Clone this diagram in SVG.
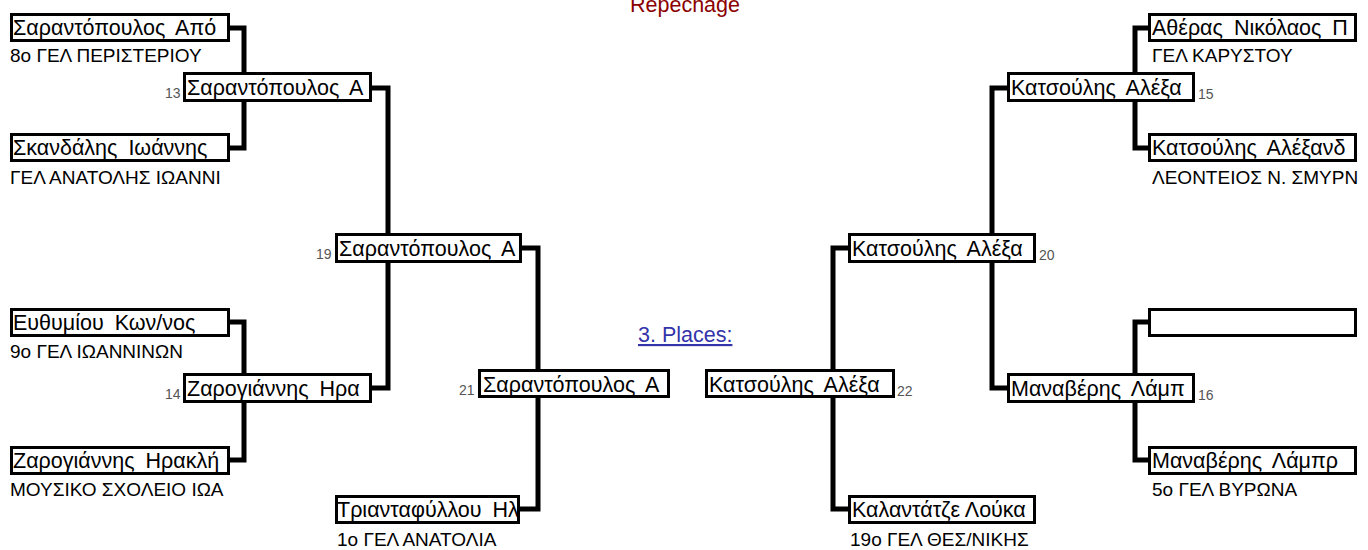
<svg xmlns="http://www.w3.org/2000/svg" width="1368" height="550" viewBox="0 0 1368 550">
<style>
.box{fill:#fff;stroke:#000;stroke-width:3}
.nm{font-family:"Liberation Sans",Arial,sans-serif;font-size:21.5px;fill:#000;word-spacing:5px}
.sc{font-family:"Liberation Sans",Arial,sans-serif;font-size:19px;fill:#000}
.no{font-family:"Liberation Sans",Arial,sans-serif;font-size:14px;fill:#555}
.ln{fill:none;stroke:#000;stroke-width:5;stroke-linejoin:miter;stroke-linecap:butt}
</style>
<rect width="1368" height="550" fill="#fff"/>
<text x="685" y="12" text-anchor="middle" font-family="Liberation Sans, Arial, sans-serif" font-size="21.5" fill="#8b0000">Repechage</text>
<text x="638" y="342" font-family="Liberation Sans, Arial, sans-serif" font-size="21.5" fill="#3333aa" text-decoration="underline">3. Places:</text>
<g id="connectors">
<path class="ln" d="M230,28 H244 V72"/>
<path class="ln" d="M230,148 H244 V102"/>
<path class="ln" d="M372,88 H388 V233"/>
<path class="ln" d="M230,322 H244 V373"/>
<path class="ln" d="M230,460 H244 V403"/>
<path class="ln" d="M372,388 H388 V263"/>
<path class="ln" d="M522,248 H538 V369"/>
<path class="ln" d="M520,509 H538 V398"/>
<path class="ln" d="M1148,28 H1135 V72"/>
<path class="ln" d="M1148,148 H1135 V102"/>
<path class="ln" d="M1007,88 H992 V233"/>
<path class="ln" d="M1148,322 H1135 V373"/>
<path class="ln" d="M1148,460 H1135 V403"/>
<path class="ln" d="M1007,388 H992 V263"/>
<path class="ln" d="M848,248 H833 V369"/>
<path class="ln" d="M848,509 H833 V398"/>
</g>
<g id="A1"><rect class="box" x="11.5" y="14.5" width="217" height="26"/><text class="nm" x="13" y="35">Σαραντόπουλος Από</text><text class="sc" x="10" y="62">8o ΓΕΛ ΠΕΡΙΣΤΕΡΙΟΥ</text></g>
<g id="A2"><rect class="box" x="11.5" y="134.5" width="217" height="26"/><text class="nm" x="13" y="155">Σκανδάλης Ιωάννης</text><text class="sc" x="10" y="184">ΓΕΛ ΑΝΑΤΟΛΗΣ ΙΩΑΝΝΙ</text></g>
<g id="A3"><rect class="box" x="11.5" y="309.5" width="217" height="26"/><text class="nm" x="13" y="330">Ευθυμίου Κων/νος</text><text class="sc" x="10" y="358">9o ΓΕΛ ΙΩΑΝΝΙΝΩΝ</text></g>
<g id="A4"><rect class="box" x="11.5" y="447.5" width="217" height="26"/><text class="nm" x="13" y="468">Ζαρογιάννης Ηρακλή</text><text class="sc" x="10" y="496">ΜΟΥΣΙΚΟ ΣΧΟΛΕΙΟ ΙΩΑ</text></g>
<g id="B1"><rect class="box" x="184.5" y="73.5" width="186" height="27"/><text class="nm" x="187" y="95">Σαραντόπουλος Α</text><text class="no" x="165" y="98">13</text></g>
<g id="B2"><rect class="box" x="184.5" y="374.5" width="186" height="27"/><text class="nm" x="187" y="396">Ζαρογιάννης Ηρα</text><text class="no" x="165" y="399">14</text></g>
<g id="C1"><rect class="box" x="336.5" y="234.5" width="184" height="27"/><text class="nm" x="339" y="256">Σαραντόπουλος Α</text><text class="no" x="316" y="259">19</text></g>
<g id="D1"><rect class="box" x="479.5" y="370.5" width="189" height="26"/><text class="nm" x="483" y="392">Σαραντόπουλος Α</text><text class="no" x="459" y="395">21</text></g>
<g id="D2"><rect class="box" x="336.5" y="496.5" width="182" height="26"/><text class="nm" x="337" y="517">Τριανταφύλλου Ηλ</text><text class="sc" x="337" y="546">1o ΓΕΛ ΑΝΑΤΟΛΙΑ</text></g>
<g id="E1"><rect class="box" x="1149.5" y="14.5" width="206" height="26"/><text class="nm" x="1152" y="35">Αθέρας Νικόλαος Π</text><text class="sc" x="1152" y="62">ΓΕΛ ΚΑΡΥΣΤΟΥ</text></g>
<g id="E2"><rect class="box" x="1149.5" y="134.5" width="206" height="26"/><text class="nm" x="1152" y="155">Κατσούλης Αλέξανδ</text><text class="sc" x="1152" y="184">ΛΕΟΝΤΕΙΟΣ Ν. ΣΜΥΡΝ</text></g>
<g id="E3"><rect class="box" x="1149.5" y="309.5" width="206" height="26"/></g>
<g id="E4"><rect class="box" x="1149.5" y="447.5" width="206" height="26"/><text class="nm" x="1152" y="468">Μαναβέρης Λάμπρ</text><text class="sc" x="1152" y="496">5o ΓΕΛ ΒΥΡΩΝΑ</text></g>
<g id="F1"><rect class="box" x="1008.5" y="73.5" width="185" height="27"/><text class="nm" x="1011" y="95">Κατσούλης Αλέξα</text><text class="no" x="1198" y="99">15</text></g>
<g id="F2"><rect class="box" x="1008.5" y="374.5" width="185" height="27"/><text class="nm" x="1011" y="396">Μαναβέρης Λάμπ</text><text class="no" x="1198" y="400">16</text></g>
<g id="G1"><rect class="box" x="849.5" y="234.5" width="185" height="27"/><text class="nm" x="852" y="256">Κατσούλης Αλέξα</text><text class="no" x="1039" y="260">20</text></g>
<g id="H1"><rect class="box" x="706.5" y="370.5" width="187" height="26"/><text class="nm" x="709" y="392">Κατσούλης Αλέξα</text><text class="no" x="897" y="396">22</text></g>
<g id="H2"><rect class="box" x="849.5" y="496.5" width="185" height="26"/><text class="nm" x="852" y="517" style="word-spacing:0">Καλαντάτζε Λούκα</text><text class="sc" x="850" y="546">19o ΓΕΛ ΘΕΣ/ΝΙΚΗΣ</text></g>
</svg>
